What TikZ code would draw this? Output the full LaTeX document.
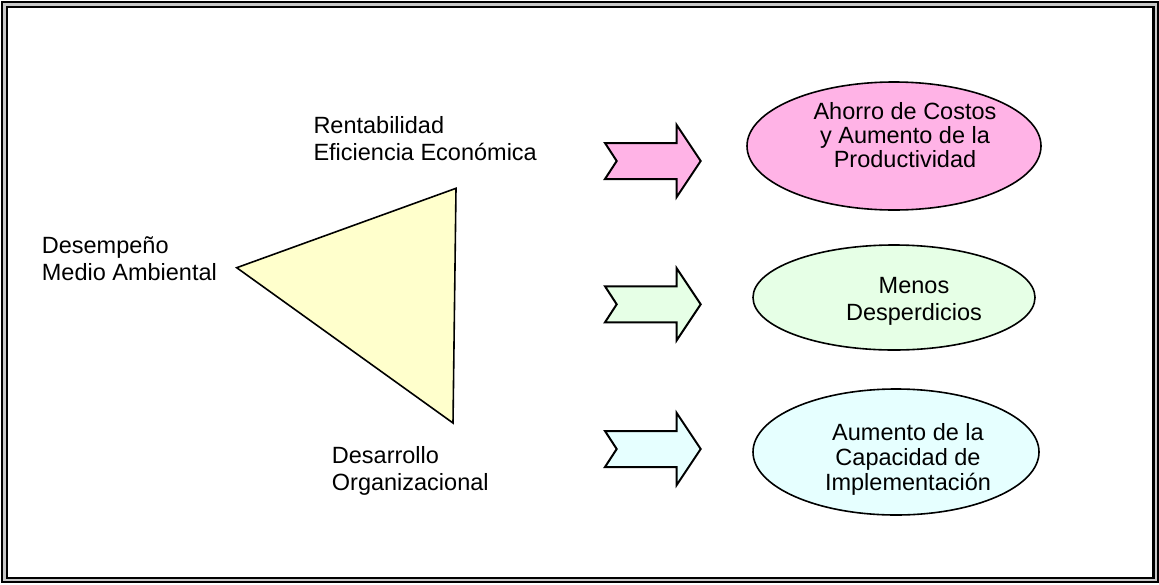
\documentclass[tikz,border=0pt]{standalone}
\usepackage{fontspec}
\setmainfont{Liberation Sans}
\usetikzlibrary{shapes.geometric}
\definecolor{pinkfill}{HTML}{FFB3E6}
\definecolor{greenfill}{HTML}{E6FFE6}
\definecolor{cyanfill}{HTML}{E6FFFF}
\definecolor{yellowfill}{HTML}{FFFFCC}
\definecolor{bandgray}{HTML}{C8C8C8}
\begin{document}
\begin{tikzpicture}[x=1pt,y=-1pt,
  label/.style={anchor=base west,inner sep=0pt},
  bubbletext/.style={anchor=base,inner sep=0pt},
  bubble/.style={draw=black,line width=1.6pt},
  fatarrow/.style={draw=black,line width=2pt,line join=miter}]
\useasboundingbox (0,0) rectangle (1159,584);
% double frame
\fill[bandgray,even odd rule] (2,2) rectangle (1158,582) (7,7) rectangle (1153.5,578);
\draw[line width=2pt] (1.8,2) rectangle (1158,582);
\draw[line width=2.5pt] (7,7) rectangle (1153.5,578);
% triangle
\draw[fill=yellowfill,line width=1.6pt,line join=miter] (236.7,267.7) -- (456,188.3) -- (453,423) -- cycle;
% labels around the triangle
\node[label] (perf) at (41.7,253.3) {\fontsize{23.5}{27.5}\selectfont\begin{tabular}[t]{@{}l@{}}Desempeño\\Medio Ambiental\end{tabular}};
\node[label] (rent) at (313.3,133.3) {\fontsize{23.5}{26.7}\selectfont\begin{tabular}[t]{@{}l@{}}Rentabilidad\\Eficiencia Económica\end{tabular}};
\node[label] (org) at (331.7,463.3) {\fontsize{23.5}{27.4}\selectfont\begin{tabular}[t]{@{}l@{}}Desarrollo\\Organizacional\end{tabular}};
% block arrows
\foreach \yc/\col in {161/pinkfill,304.3/greenfill,449/cyanfill}{
  \draw[fatarrow,fill=\col] (605,\yc-18) -- (676.7,\yc-18) -- (676.7,\yc-36) -- (700.7,\yc)
    -- (676.7,\yc+36) -- (676.7,\yc+18) -- (605,\yc+18) -- (616.7,\yc) -- cycle;
}
% result ellipses
\draw[bubble,fill=pinkfill] (894,146) ellipse [x radius=147,y radius=64];
\draw[bubble,fill=greenfill] (894,297.5) ellipse [x radius=141,y radius=52.5];
\draw[bubble,fill=cyanfill] (896,452) ellipse [x radius=143,y radius=63];
\node[bubbletext] (cost) at (905,119.3) {\fontsize{23.5}{23.7}\selectfont\begin{tabular}[t]{@{}c@{}}Ahorro de Costos\\y Aumento de la\\Productividad\end{tabular}};
\node[bubbletext] (waste) at (914,293.3) {\fontsize{23.5}{26.7}\selectfont\begin{tabular}[t]{@{}c@{}}Menos\\Desperdicios\end{tabular}};
\node[bubbletext] (cap) at (908,440) {\fontsize{23.5}{25}\selectfont\begin{tabular}[t]{@{}c@{}}Aumento de la\\Capacidad de\\Implementación\end{tabular}};
\end{tikzpicture}
\end{document}
